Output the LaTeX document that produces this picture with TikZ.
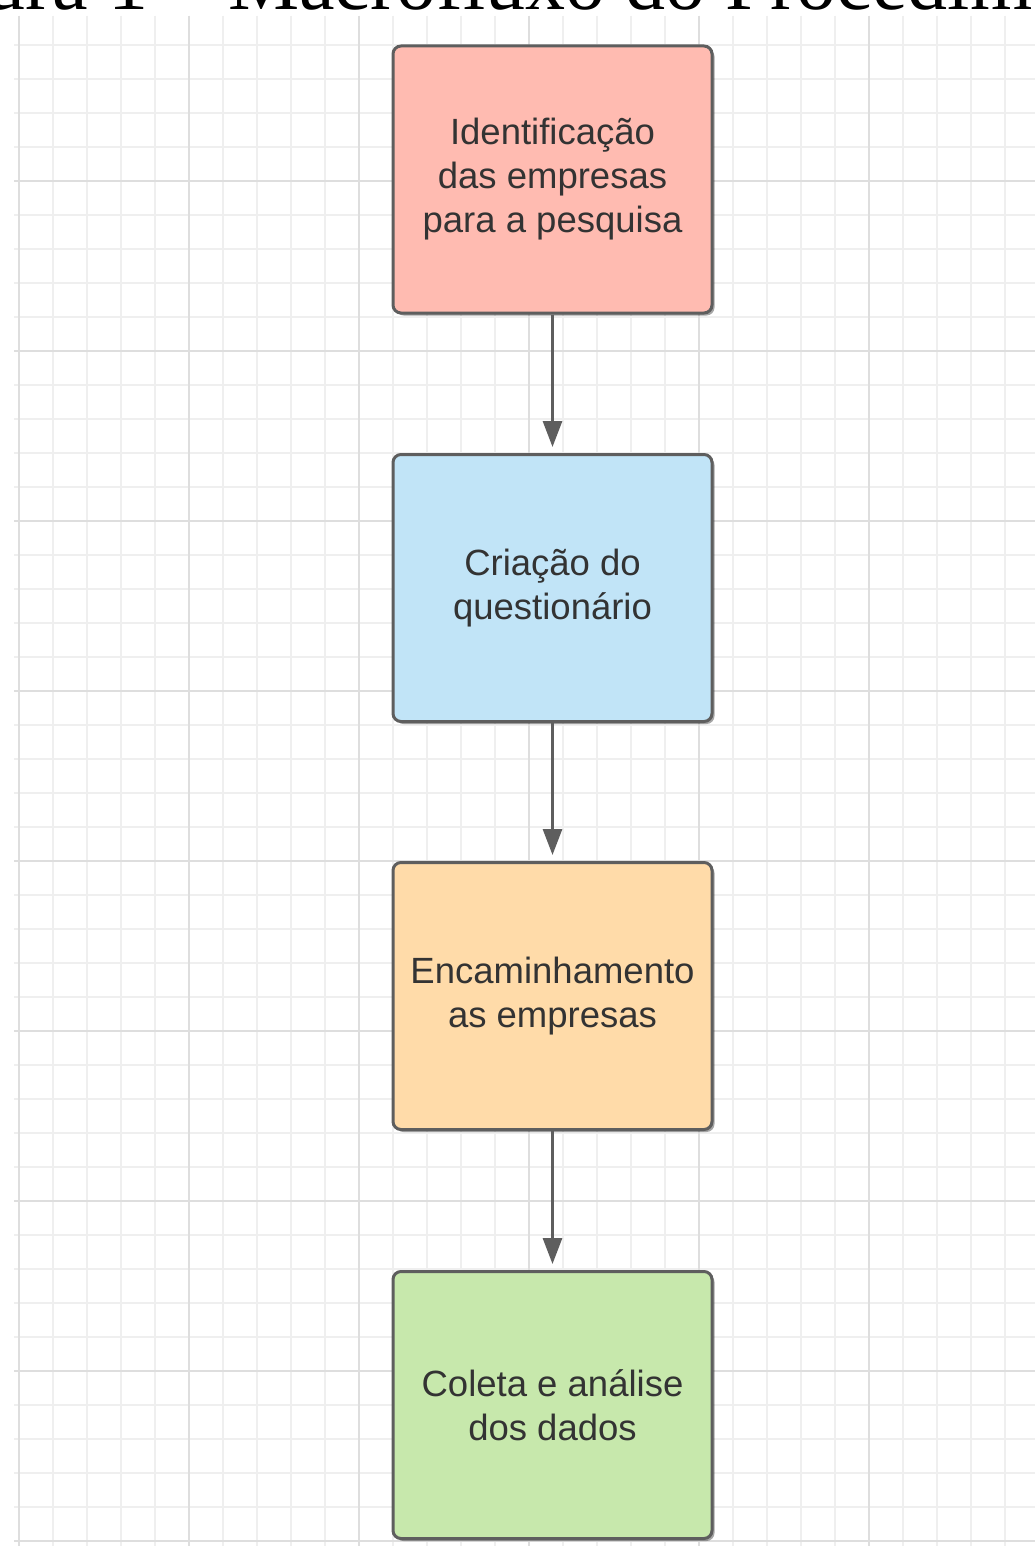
\documentclass[tikz,border=0pt]{standalone}
\usepackage{fontspec}
\setmainfont{Liberation Serif}
\newfontfamily\boxfont{Liberation Sans}
\usetikzlibrary{arrows.meta,shadows}
\definecolor{gminor}{HTML}{EFEFEF}
\definecolor{gmajor}{HTML}{DEDEDE}
\definecolor{edgec}{HTML}{5E5E5E}
\definecolor{txtc}{HTML}{333333}
\definecolor{pinkf}{HTML}{FFBBB1}
\definecolor{bluef}{HTML}{C1E4F7}
\definecolor{orangef}{HTML}{FFDBA9}
\definecolor{greenf}{HTML}{C7E8AC}
\begin{document}
\begin{tikzpicture}[x=1pt,y=-1pt,
  procbox/.style={draw=edgec, line width=3pt, rounded corners=8pt,
    minimum width=319pt, minimum height=267pt, inner sep=0pt,
    align=center, text=txtc, font=\boxfont\fontsize{36.5}{44}\selectfont,
    drop shadow={shadow xshift=2.5pt, shadow yshift=-2.5pt, fill=black, opacity=0.35}},
  flow/.style={draw=edgec, line width=3pt, shorten >=6pt,
    -{Triangle[width=19pt,length=26pt]}},
  minorline/.style={draw=gminor, line width=2.5pt},
  majorline/.style={draw=gmajor, line width=2.5pt}]
\useasboundingbox (0,0) rectangle (1035,1546);
\fill[white] (0,0) rectangle (1035,1546);
% grid
\foreach \k in {0,...,30} {
  \pgfmathsetmacro{\gx}{19+34*\k}
  \draw[minorline] (\gx,16) -- (\gx,1546);
}
\foreach \k in {-4,...,40} {
  \pgfmathsetmacro{\gy}{181+34*\k}
  \draw[minorline] (14,\gy) -- (1035,\gy);
}
\foreach \k in {0,...,6} {
  \pgfmathsetmacro{\gx}{19+170*\k}
  \draw[majorline] (\gx,16) -- (\gx,1546);
}
\foreach \k in {0,...,8} {
  \pgfmathsetmacro{\gy}{181+170*\k}
  \draw[majorline] (14,\gy) -- (1035,\gy);
}
% title (cut off at the top edge, as in the reference)
\node[anchor=base west, inner sep=0pt, font=\fontsize{80}{80}\selectfont] (title) at (-121,10) {Figura 1 – Macrofluxo do Procedimento};
% boxes
\node[procbox, fill=pinkf] (b1) at (552.5,179.5) {Identificação\\das empresas\\para a pesquisa};
\node[procbox, fill=bluef] (b2) at (552.5,588) {Criação do\\questionário};
\node[procbox, fill=orangef] (b3) at (552.5,996) {Encaminhamento\\as empresas};
\node[procbox, fill=greenf] (b4) at (552.5,1405) {Coleta e análise\\dos dados};
% arrows
\draw[flow] (b1) -- (b2);
\draw[flow] (b2) -- (b3);
\draw[flow] (b3) -- (b4);
\end{tikzpicture}
\end{document}
